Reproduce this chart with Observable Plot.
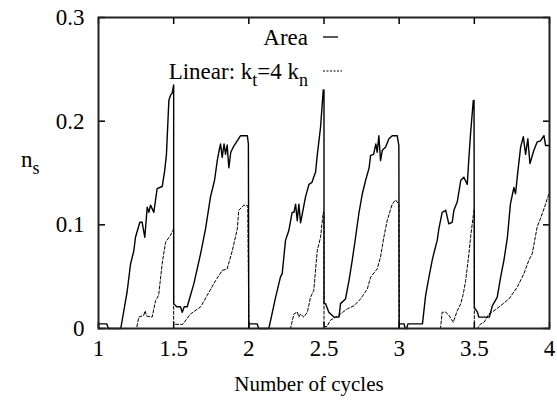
<!DOCTYPE html>
<html><head><meta charset="utf-8">
<script src="https://cdn.jsdelivr.net/npm/d3@7"></script>
<script src="https://cdn.jsdelivr.net/npm/@observablehq/plot@0.6"></script>
<style>body{margin:0;background:#fff}</style>
</head><body><div id="chart"></div>
<script>
const xTicks = [1, 1.5, 2, 2.5, 3, 3.5, 4];
const yTicks = [0, 0.1, 0.2, 0.3];
const xLabel = "Number of cycles";
const seriesNames = ["Area", "Linear"];

const areaX = [1.000,1.000,1.055,1.065,1.148,1.19,1.213,1.235,1.246,1.275,1.29,1.308,1.324,1.335,1.346,1.368,1.39,1.424,1.44,1.452,1.468,1.479,1.49,1.50,
 1.50,1.52,1.545,1.557,1.57,1.59,1.634,1.679,1.712,1.745,1.772,1.79,1.80,1.812,1.823,1.835,1.845,1.856,1.867,1.88,1.90,1.923,1.945,1.99,1.997,2.00,
 2.00,2.055,2.065,2.133,2.178,2.211,2.222,2.244,2.266,2.288,2.30,2.311,2.322,2.333,2.344,2.355,2.377,2.40,2.42,2.444,2.455,2.477,2.495,2.50,
 2.50,2.51,2.532,2.566,2.60,2.61,2.643,2.666,2.688,2.71,2.732,2.755,2.777,2.80,2.81,2.83,2.845,2.854,2.865,2.876,2.888,2.91,2.932,2.954,2.987,2.998,3.00,
 3.00,3.033,3.04,3.05,3.058,3.155,3.176,3.198,3.22,3.235,3.253,3.264,3.286,3.31,3.33,3.353,3.364,3.386,3.41,3.43,3.453,3.464,3.475,3.493,3.498,
 3.50,3.52,3.53,3.60,3.62,3.652,3.675,3.697,3.72,3.74,3.763,3.774,3.79,3.808,3.826,3.841,3.856,3.87,3.896,3.918,3.94,3.963,3.974,4.00];
const areaY = [0,0.0045,0.0045,0,0,0.035,0.062,0.075,0.088,0.1025,0.1025,0.088,0.117,0.112,0.119,0.112,0.135,0.137,0.152,0.168,0.22,0.225,0.227,0.235,
 0.024,0.021,0.021,0.0157,0.021,0.021,0.043,0.072,0.096,0.127,0.143,0.162,0.170,0.178,0.165,0.178,0.168,0.177,0.155,0.170,0.176,0.181,0.186,0.186,0.178,0,
 0.0045,0.0045,0,0,0.030,0.050,0.053,0.085,0.0945,0.112,0.112,0.120,0.104,0.120,0.102,0.110,0.127,0.139,0.141,0.151,0.167,0.194,0.23,0.23,
 0.024,0.024,0.0157,0.011,0.011,0.024,0.0285,0.046,0.066,0.088,0.111,0.13,0.143,0.155,0.167,0.168,0.178,0.170,0.186,0.162,0.172,0.175,0.183,0.186,0.186,0.1765,0,
 0.0045,0.0045,0,0,0.0045,0.0045,0.032,0.0495,0.066,0.075,0.085,0.096,0.112,0.114,0.101,0.1025,0.114,0.122,0.143,0.146,0.139,0.165,0.188,0.22,0.22,
 0.020,0.016,0.011,0.011,0.022,0.030,0.0495,0.066,0.088,0.12,0.136,0.13,0.152,0.175,0.185,0.168,0.183,0.159,0.172,0.18,0.181,0.186,0.1765,0.1765];

const linearX = [1.00,1.253,1.268,1.30,1.31,1.32,1.357,1.38,1.40,1.424,1.446,1.479,1.50,
 1.50,1.56,1.612,1.68,1.723,1.778,1.823,1.856,1.89,1.923,1.933,1.967,1.993,2.00,
 2.277,2.30,2.322,2.333,2.344,2.366,2.39,2.41,2.432,2.455,2.477,2.495,2.50,
 2.50,2.52,2.543,2.577,2.61,2.655,2.70,2.743,2.788,2.81,2.854,2.876,2.898,2.92,2.954,2.976,2.998,3.00,
 3.275,3.286,3.31,3.33,3.36,3.386,3.41,3.426,3.442,3.464,3.475,3.493,3.50,
 3.50,3.52,3.542,3.565,3.597,3.63,3.675,3.73,3.786,3.83,3.863,3.885,3.918,3.94,3.974,3.996];
const linearY = [0,0,0.011,0.0125,0.017,0.012,0.011,0.027,0.032,0.063,0.083,0.09,0.096,
 0.004,0.004,0.014,0.021,0.032,0.046,0.056,0.0575,0.075,0.096,0.114,0.119,0.1185,0,
 0,0.014,0.016,0.011,0.014,0.011,0.016,0.030,0.0367,0.075,0.088,0.112,0.112,
 0.002,0.002,0.008,0.011,0.014,0.019,0.022,0.0285,0.038,0.0495,0.0575,0.069,0.088,0.104,0.12,0.124,0.12,0,
 0,0.0157,0.0157,0.013,0.006,0.017,0.024,0.033,0.046,0.072,0.088,0.109,0.115,
 0,0,0.0045,0.006,0.014,0.017,0.022,0.0285,0.04,0.053,0.066,0.072,0.098,0.106,0.12,0.13];

const area = areaX.map((x, i) => ({x, y: areaY[i]}));
const linear = linearX.map((x, i) => ({x, y: linearY[i]}));

const chart = Plot.plot({
  width: 557, height: 401,
  marginLeft: 98, marginRight: 8, marginTop: 17, marginBottom: 73,
  style: {fontFamily: "serif", fontSize: "23px", color: "#000", background: "#fff", overflow: "visible"},
  x: {domain: [1, 4]},
  y: {domain: [0, 0.3]},
  marks: [
    Plot.line(area, {x: "x", y: "y", stroke: "#000", strokeWidth: 1.4, curve: "linear"}),
    Plot.line(linear, {x: "x", y: "y", stroke: "#000", strokeWidth: 1, strokeDasharray: "3,2", curve: "linear"}),
    Plot.axisX({ticks: xTicks, tickSize: -6, tickPadding: 17, label: null, tickFormat: d => String(d), stroke: "#000", strokeWidth: 1.5}),
    Plot.axisX({anchor: "top", ticks: xTicks, tickSize: -6, tickFormat: () => "", label: null, stroke: "#000", strokeWidth: 1.5}),
    Plot.axisY({ticks: yTicks, tickSize: -7, tickPadding: 21, label: null, tickFormat: d => String(d), stroke: "#000", strokeWidth: 1.5}),
    Plot.axisY({anchor: "right", ticks: yTicks, tickSize: -7, tickFormat: () => "", label: null, stroke: "#000", strokeWidth: 1.5}),
    Plot.frame({stroke: "#222", strokeWidth: 2})
  ]
});
document.getElementById("chart").append(chart);

// labels & legend with subscripts
const svg = d3.select(chart);
const sx = chart.scale("x");
function subText(x, y, parts, anchor, size) {
  const t = svg.append("text").attr("x", x).attr("y", y).attr("text-anchor", anchor)
    .attr("font-family", "serif").attr("font-size", size).attr("fill", "#000");
  let prevSub = false;
  for (const [s, sub] of parts) {
    const ts = t.append("tspan").text(s);
    if (sub) { ts.attr("font-size", size * 0.78).attr("dy", size * 0.3); }
    else if (prevSub) { ts.attr("dy", -size * 0.3); }
    prevSub = sub;
  }
  return t;
}
// axis titles
svg.append("text").attr("x", 309).attr("y", 391).attr("text-anchor", "middle")
  .attr("font-family", "serif").attr("font-size", 21).attr("fill", "#000").text(xLabel);
subText(21, 167, [["n", false], ["s", true]], "start", 23);

// legend
const legX = sx.apply(2.397);
subText(legX, 45, [[seriesNames[0], false]], "end", 23);
subText(legX, 79, [["Linear: k", false], ["t", true], ["=4 k", false], ["n", true]], "end", 23);
svg.append("line").attr("x1", 323).attr("x2", 338).attr("y1", 37).attr("y2", 37).attr("stroke", "#000").attr("stroke-width", 1.3);
svg.append("line").attr("x1", 323).attr("x2", 342).attr("y1", 71).attr("y2", 71).attr("stroke", "#000").attr("stroke-width", 1).attr("stroke-dasharray", "2,1.5");
</script>
</body></html>
